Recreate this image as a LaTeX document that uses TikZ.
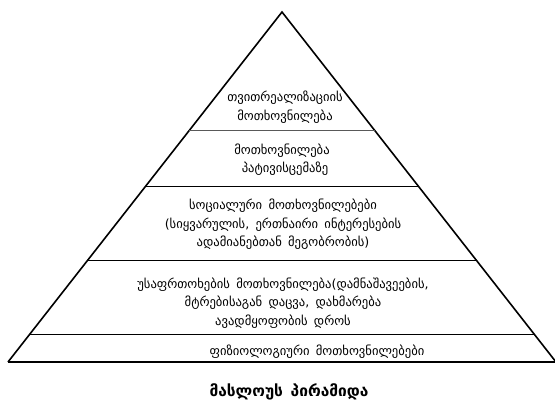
\documentclass[tikz,border=0pt]{standalone}
\usepackage{fontspec}
\newfontfamily\geo{DejaVu Sans}
\usetikzlibrary{calc}
\newcommand\geolbl{\geo\fontsize{12.6}{18.5}\selectfont\spaceskip=0.5em\relax}
\newcommand\geottl{\geo\bfseries\fontsize{15.5}{16}\selectfont\spaceskip=0.5em\relax}
\tikzset{
  edge/.style={line width=1.6pt, line join=miter},
  divider/.style={line width=0.8pt},
  lbl/.style={font=\geolbl, align=center, inner sep=0pt},
  ttl/.style={font=\geottl, inner sep=0pt}
}
\begin{document}
\begin{tikzpicture}[x=1pt,y=-1pt]
\useasboundingbox (0,0) rectangle (555,405);
\coordinate (A) at (282,12);
\coordinate (L) at (8,362);
\coordinate (R) at (556,362);
\draw[edge] (L) -- (A) -- (R);
\draw[edge] (L) -- (555,362);
\draw[divider, black!65] ($(A)!0.339!(L)$) -- ($(A)!0.339!(R)$);
\draw[divider] ($(A)!0.497!(L)$) -- ($(A)!0.497!(R)$);
\draw[divider] ($(A)!0.709!(L)$) -- ($(A)!0.709!(R)$);
\draw[divider] ($(A)!0.92!(L)$) -- ($(A)!0.92!(R)$);
\node[lbl] (t1) at (285,107) {თვითრეალიზაციის\\მოთხოვნილება};
\node[lbl] (t2) at (282,159.5) {მოთხოვნილება\\\hspace*{6pt}პატივისცემაზე};
\node[lbl] (t3) at (283,224.5) {სოციალური მოთხოვნილებები\\(სიყვარულის, ერთნაირი ინტერესების\\ადამიანებთან მეგობრობის)};
\node[lbl] (t4) at (283,303) {უსაფრთოხების მოთხოვნილება(დამნაშავეების,\\მტრებისაგან დაცვა, დახმარება\\ავადმყოფობის დროს};
\node[lbl] (t5) at (317,352) {ფიზიოლოგიური მოთხოვნილებები};
\node[ttl] (title) at (289,392) {მასლოუს პირამიდა};
\end{tikzpicture}
\end{document}
